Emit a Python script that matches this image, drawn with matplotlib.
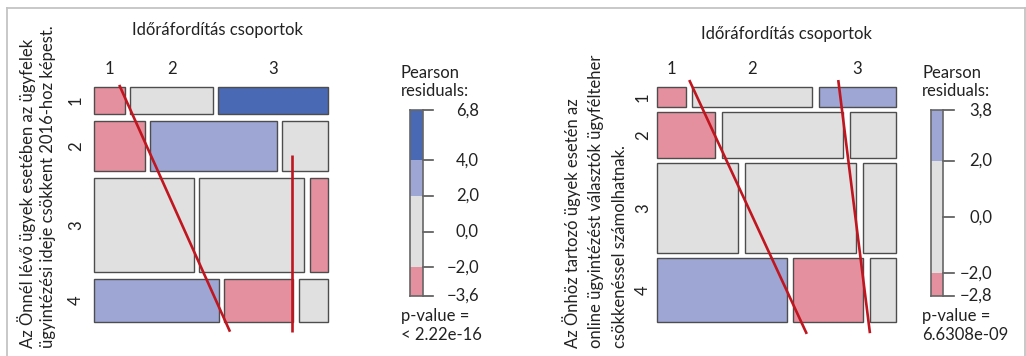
import matplotlib
matplotlib.use("Agg")
import matplotlib.pyplot as plt
from matplotlib.patches import Rectangle
from matplotlib.lines import Line2D
import matplotlib.transforms as mtransforms

plt.rcParams["font.family"] = ["Lato", "DejaVu Sans"]

# ---------------- data ----------------
col_categories = ["1", "2", "3"]
row_categories = ["1", "2", "3", "4"]

# left panel: row shares (%) and column shares within each row (%)
left_row_share = [12.5, 23.3, 43.8, 20.4]
left_col_share = [
    [13.9, 36.9, 49.2],
    [22.7, 56.8, 20.5],
    [44.9, 47.0, 8.1],
    [56.1, 31.0, 12.9],
]
left_residuals = [
    [-2.6, 0.8, 6.8],
    [-2.9, 3.1, -1.2],
    [1.1, -0.6, -3.6],
    [2.6, -2.4, -0.9],
]
left_legend_ticks = [6.8, 4.0, 2.0, 0.0, -2.0, -3.6]
left_pvalue = "< 2.22e-16"
left_ylabel = ["Az Önnél lévő ügyek esetében az ügyfelek",
               "ügyintézési ideje csökkent 2016-hoz képest."]

# right panel
right_row_share = [9.1, 21.0, 41.0, 28.8]
right_col_share = [
    [12.6, 53.3, 34.1],
    [25.8, 53.8, 20.4],
    [35.9, 49.4, 14.7],
    [57.5, 30.9, 11.6],
]
right_residuals = [
    [-2.3, -0.4, 3.8],
    [-2.8, 0.9, 0.3],
    [-0.2, 0.6, 1.4],
    [2.5, -2.2, -1.1],
]
right_legend_ticks = [3.8, 2.0, 0.0, -2.0, -2.8]
right_pvalue = "6.6308e-09"
right_ylabel = ["Az Önhöz tartozó ügyek esetén az",
                "online ügyintézést választók ügyfélteher",
                "csökkenéssel számolhatnak."]

col_title = "Időráfordítás csoportok"

# hand-drawn trend lines, in mosaic fraction coordinates (x0, y0, x1, y1)
left_trend = [(0.108, -0.010, 0.582, 1.040), (0.847, 0.287, 0.847, 1.043)]
right_trend = [(0.134, -0.031, 0.627, 1.052), (0.759, -0.031, 0.892, 1.049)]

# ---------------- style ----------------
W, H = 1026, 356
FS = 12.0
TXT = "#222222"
C_GRAY = "#e0e0e0"
C_POS1 = "#9ea6d4"
C_POS2 = "#4a69b4"
C_NEG1 = "#e5909e"
C_NEG2 = "#c9505f"
C_EDGE = "#4d4d4d"
C_RED = "#c0161f"


def shade(r):
    if r > 4:
        return C_POS2
    if r > 2:
        return C_POS1
    if r < -4:
        return C_NEG2
    if r < -2:
        return C_NEG1
    return C_GRAY


def fmt(v):
    s = f"{v:.1f}".replace(".", ",")
    return s.replace("-", "\u2212")


fig = plt.figure(figsize=(W / 100, H / 100), dpi=100)
fig.patch.set_facecolor("white")


def px_axes(x0, y0, x1, y1):
    return fig.add_axes([x0 / W, 1 - y1 / H, (x1 - x0) / W, (y1 - y0) / H])


def fig_text(x, y, s, **kw):
    fig.text(x / W, 1 - y / H, s, fontsize=FS, color=TXT, **kw)


# outer frame
for seg in [((7, 1025), (7.5, 7.5)), ((7, 7), (7.5, 356)), ((1025, 1025), (7.5, 356))]:
    fig.add_artist(Line2D([x / W for x in seg[0]], [1 - y / H for y in seg[1]],
                          color="#c4c4c4", lw=1.3, transform=fig.transFigure))


def mosaic(box, row_share, col_share, residuals, hgap_px, vgap_px, trends):
    x0, y0, x1, y1 = box
    ax = px_axes(x0, y0, x1, y1)
    ax.set_xlim(0, 1)
    ax.set_ylim(1, 0)
    ax.axis("off")
    hgap = hgap_px / (x1 - x0)
    vgap = vgap_px / (y1 - y0)
    nrow = len(row_share)
    tot_r = sum(row_share)
    avail_v = 1 - vgap * (nrow - 1)
    y = 0.0
    row_centers = []
    first_row_centers = []
    for i in range(nrow):
        h = row_share[i] / tot_r * avail_v
        shares = col_share[i]
        tot_c = sum(shares)
        avail_h = 1 - hgap * (len(shares) - 1)
        x = 0.0
        for j, s in enumerate(shares):
            w = s / tot_c * avail_h
            ax.add_patch(Rectangle((x, y), w, h, facecolor=shade(residuals[i][j]),
                                   edgecolor=C_EDGE, lw=1.0, clip_on=False))
            if i == 0:
                first_row_centers.append(x + w / 2)
            x += w + hgap
        row_centers.append(y + h / 2)
        y += h + vgap
    for (a, b, c, d) in trends:
        ax.plot([a, c], [b, d], color=C_RED, lw=1.9, clip_on=False,
                solid_capstyle="butt", zorder=5)
    return ax, row_centers, first_row_centers


def legend(box, ticks, label_x_px, title_x_px, pvalue):
    x0, y0, x1, y1 = box
    ax = px_axes(x0, y0, x1, y1)
    vmax, vmin = max(ticks), min(ticks)
    ax.set_ylim(vmin, vmax)
    ax.set_xlim(0, 1)
    bands = [(4, 99, C_POS2), (2, 4, C_POS1), (-2, 2, C_GRAY),
             (-4, -2, C_NEG1), (-99, -4, C_NEG2)]
    for lo, hi, c in bands:
        lo2, hi2 = max(lo, vmin), min(hi, vmax)
        if hi2 > lo2:
            ax.bar(0.5, hi2 - lo2, bottom=lo2, width=1.0, color=c, lw=0)
    for sp in ax.spines.values():
        sp.set_color("#666666")
        sp.set_linewidth(1.2)
    ax.set_xticks([])
    ax.set_yticks([])
    trans = mtransforms.blended_transform_factory(ax.transAxes, ax.transData)
    tick_len = 10.5 / (x1 - x0)
    lab_x = (label_x_px - x0) / (x1 - x0)
    for t in ticks:
        ax.add_line(Line2D([1, 1 + tick_len], [t, t], color="#555555", lw=1.2,
                           transform=trans, clip_on=False))
        ax.text(lab_x, t, fmt(t), transform=trans, ha="right", va="center",
                fontsize=FS, color=TXT)
    fig_text(title_x_px, 73.5, "Pearson", ha="left", va="center")
    fig_text(title_x_px, 91.5, "residuals:", ha="left", va="center")
    fig_text(title_x_px, 316.5, "p-value =", ha="left", va="center")
    fig_text(title_x_px, 335.5, pvalue, ha="left", va="center")


def ylabel_lines(lines, xs, y_start):
    for s, x in zip(lines, xs):
        fig.text(x / W, 1 - y_start / H, s, rotation=90, rotation_mode="anchor",
                 ha="left", va="center", fontsize=FS, color=TXT)


def panel(box, row_share, col_share, residuals, hgap, vgap, trends,
          title_xy, col_lab_y, row_lab_x):
    ax, rc, cc = mosaic(box, row_share, col_share, residuals, hgap, vgap, trends)
    x0, y0, x1, y1 = box
    fig_text(title_xy[0], title_xy[1], col_title, ha="center", va="center")
    for lab, c in zip(col_categories, cc):
        fig_text(x0 + c * (x1 - x0), col_lab_y, lab, ha="center", va="center")
    for lab, r in zip(row_categories, rc):
        fig_text(row_lab_x, y0 + r * (y1 - y0), lab, ha="center", va="center",
                 rotation=90)


# left panel
panel((94, 87.3, 327.7, 322.3), left_row_share, left_col_share, left_residuals,
      5.5, 7.0, left_trend, (217.7, 30.5), 69.5, 76)
legend((410, 110.3, 422.7, 296), left_legend_ticks, 479, 401, left_pvalue)
ylabel_lines(left_ylabel, [27, 48.5], 348)

# right panel
panel((657.3, 87.3, 895.7, 321.7), right_row_share, right_col_share, right_residuals,
      6.5, 5.0, right_trend, (786, 34.5), 69.5, 643)
legend((931, 110.3, 943.3, 296), right_legend_ticks, 992.5, 922.3, right_pvalue)
ylabel_lines(right_ylabel, [572, 596, 620], 348)

fig.savefig("out.png", dpi=100, facecolor="white")
